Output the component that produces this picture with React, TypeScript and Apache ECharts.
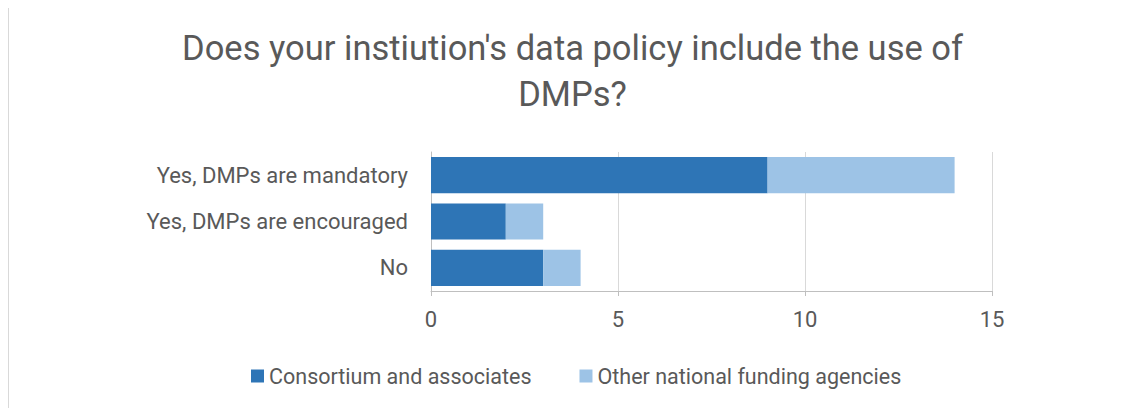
import React, { useEffect, useRef } from "react";
import * as echarts from "echarts";

const categories = ["No", "Yes, DMPs are encouraged", "Yes, DMPs are mandatory"];
const consortium = [3, 2, 9];
const otherAgencies = [1, 1, 5];
const seriesNames = ["Consortium and associates", "Other national funding agencies"];
const titleText = "Does your instiution's data policy include the use of\nDMPs?";

const FONT = "Roboto";
const TEXT = "#595959";

export default function App() {
  const ref = useRef<HTMLDivElement>(null);
  useEffect(() => {
    const chart = echarts.init(ref.current!, undefined, { renderer: "svg" });
    chart.setOption({
      animation: false,
      title: {
        text: titleText,
        left: "center",
        top: 17,
        padding: 0,
        textStyle: { fontFamily: FONT, fontSize: 34.5, fontWeight: "normal", color: TEXT, lineHeight: 46 },
      },
      legend: {
        top: 357,
        left: 242,
        padding: 0,
        itemWidth: 13,
        itemHeight: 13,
        itemGap: 48,
        icon: "rect",
        textStyle: { fontFamily: FONT, fontSize: 21.5, color: TEXT, lineHeight: 21 },
        data: seriesNames,
      },
      grid: { left: 422, right: 144, top: 144, bottom: 117 },
      xAxis: {
        type: "value",
        min: 0,
        max: 15,
        interval: 5,
        axisLine: { show: true, lineStyle: { color: "#bfbfbf", width: 1 } },
        axisTick: { show: true, length: 5, lineStyle: { color: "#bfbfbf" } },
        splitLine: { show: true, lineStyle: { color: "#d9d9d9" } },
        axisLabel: { fontFamily: FONT, fontSize: 22, color: TEXT, margin: 17 },
      },
      yAxis: {
        type: "category",
        data: categories,
        axisLine: { show: true, lineStyle: { color: "#bfbfbf" } },
        axisTick: { show: false },
        axisLabel: { fontFamily: FONT, fontSize: 22, color: TEXT, margin: 23 },
      },
      series: [
        {
          name: seriesNames[0],
          type: "bar",
          stack: "total",
          data: consortium,
          barCategoryGap: "22%",
          itemStyle: { color: "#2E75B6" },
        },
        {
          name: seriesNames[1],
          type: "bar",
          stack: "total",
          data: otherAgencies,
          itemStyle: { color: "#9DC3E6" },
        },
      ],
    });
    return () => chart.dispose();
  }, []);
  return (
    <div
      ref={ref}
      style={{
        width: 1128,
        height: 401,
        marginTop: -1,
        borderTop: "1px solid #d9d9d9",
        borderLeft: "1px solid #d9d9d9",
        boxSizing: "border-box",
        background: "#fff",
      }}
    />
  );
}
